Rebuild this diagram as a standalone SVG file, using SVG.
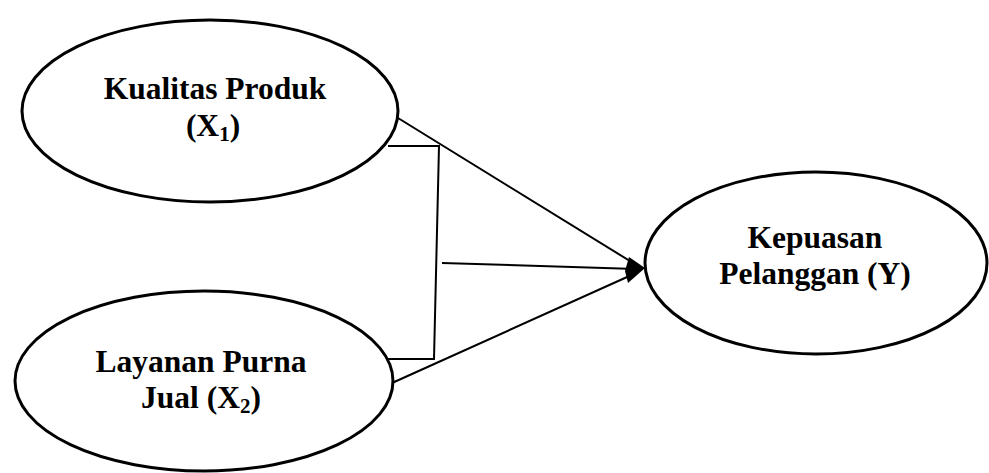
<svg xmlns="http://www.w3.org/2000/svg" width="989" height="473" viewBox="0 0 989 473">
<style>
.node ellipse{fill:#fff;stroke:#000;stroke-width:3}
.node text{font-family:"Liberation Serif","Times New Roman",serif;font-weight:bold;font-size:31.5px;fill:#000;text-anchor:middle}
.sub{font-size:21px}
.conn line,.conn polyline{stroke:#000;stroke-width:2;fill:none}
</style>
<rect width="989" height="473" fill="#fff"/>
<g id="x1" class="node">
<ellipse cx="210" cy="111" rx="188" ry="91"/>
<text x="215" y="99">Kualitas Produk</text>
<text x="213" y="136">(X<tspan class="sub" dy="5">1</tspan><tspan dy="-5">)</tspan></text>
</g>
<g id="x2" class="node">
<ellipse cx="204" cy="381" rx="189" ry="90"/>
<text x="201" y="372">Layanan Purna</text>
<text x="201" y="408">Jual (X<tspan class="sub" dy="5">2</tspan><tspan dy="-5">)</tspan></text>
</g>
<g id="y" class="node">
<ellipse cx="816" cy="263" rx="171" ry="91"/>
<text x="815" y="248">Kepuasan</text>
<text x="815" y="284">Pelanggan (Y)</text>
</g>
<g id="connectors" class="conn">
<line x1="398" y1="118" x2="638" y2="266"/>
<line x1="442" y1="263" x2="636" y2="269"/>
<line x1="392" y1="383" x2="636" y2="273"/>
<polyline points="388,146 439,146 434,359 388,359" stroke-width="2.5"/>
<polygon points="645,268 629,257 625,271 628,283" fill="#000"/>
</g>
</svg>
